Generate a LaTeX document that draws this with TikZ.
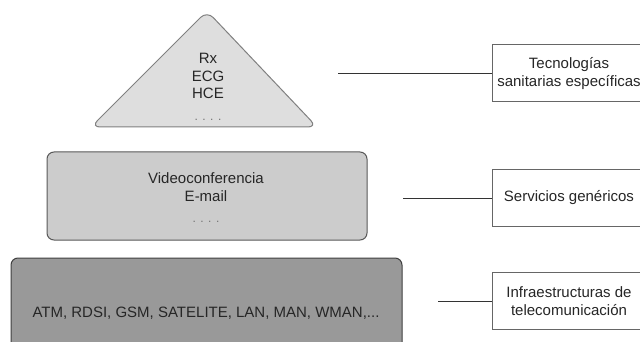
\documentclass[tikz,border=0pt]{standalone}
\usepackage{fontspec}
\setmainfont{Liberation Sans}
\begin{document}
\begin{tikzpicture}[x=1pt,y=-1pt,
  txt/.style={font=\fontsize{15}{17.5}\selectfont, text=black!85, align=center},
  layer/.style={draw=black!65, line width=1pt, rounded corners=7pt},
  tag/.style={draw=black!60, line width=1pt, fill=white, minimum width=154pt,
              inner sep=0pt, txt},
  link/.style={draw=black!80, line width=0.9pt}]
\newcommand{\moredots}{{\color{black!55}\fontsize{12}{12}\selectfont . . . .}}
\clip (0,0) rectangle (640,342);
\fill[white] (0,0) rectangle (640,342);

% top level: specific health technologies
\draw[layer, draw=black!50, fill=black!13, rounded corners=9pt]
  (207,11) -- (317,127) -- (91,127) -- cycle;
\node[txt] (tri) at (208,87) {Rx\\ECG\\HCE\\[4pt]\moredots};

% middle level: generic services
\node[layer, fill=black!20, minimum width=320pt, minimum height=88pt, inner sep=0pt]
  (mid) at (207,196) {};
\node[txt] (midtxt) at (206,198) {Videoconferencia\\E-mail\\[4pt]\moredots};

% bottom level: telecom infrastructure
\node[layer, fill=black!40, draw=black!75, minimum width=391pt, minimum height=110pt, inner sep=0pt]
  (bot) at (206.5,313) {};
\node[txt] (bottxt) at (206,313) {ATM, RDSI, GSM, SATELITE, LAN, MAN, WMAN,...};

% labels on the right
\node[tag, minimum height=57pt] (t1) at (569,73.5) {Tecnolog\'ias\\sanitarias espec\'ificas};
\node[tag, minimum height=57pt] (t2) at (569,198) {Servicios gen\'ericos};
\node[tag, minimum height=57pt] (t3) at (569,301) {Infraestructuras de\\telecomunicaci\'on};

% leader lines
\coordinate (c1) at (338,73);
\coordinate (c2) at (403,198);
\coordinate (c3) at (438,301);
\draw[link] (c1) -- (t1.west |- c1);
\draw[link] (c2) -- (t2.west |- c2);
\draw[link] (c3) -- (t3.west |- c3);
\end{tikzpicture}
\end{document}
